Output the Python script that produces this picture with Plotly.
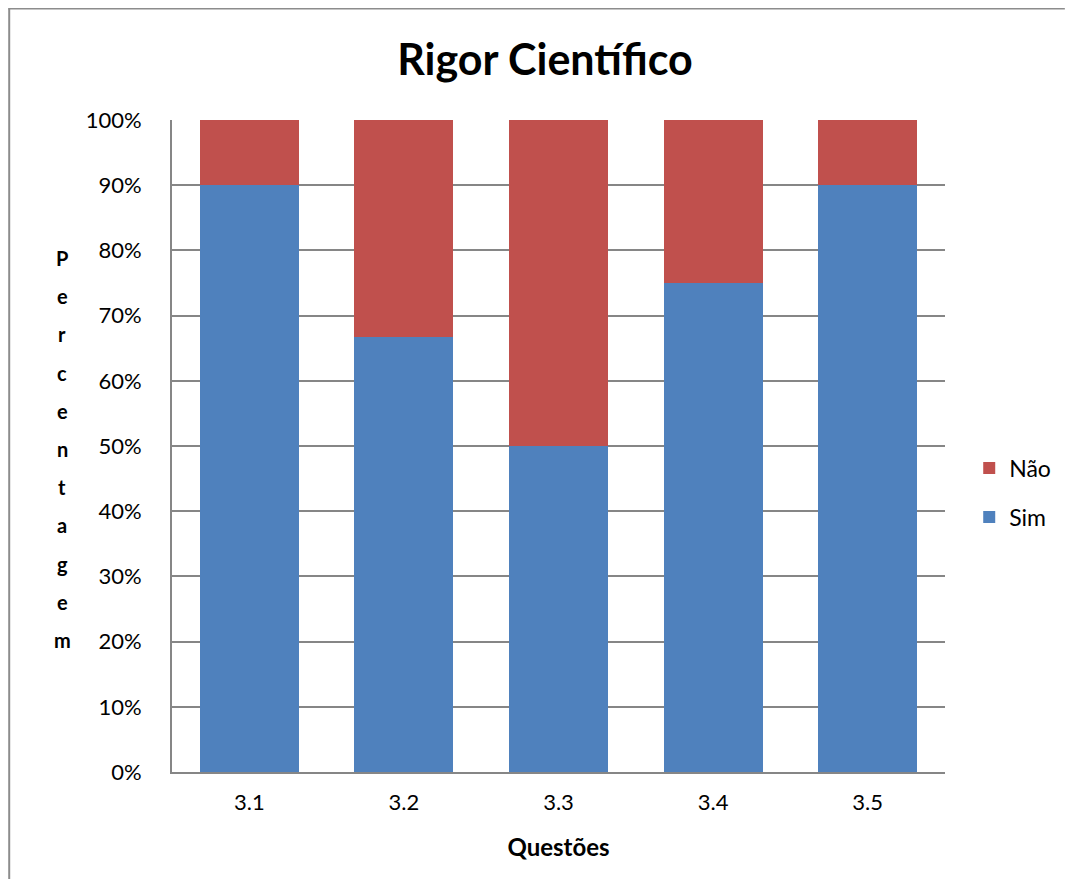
import plotly.graph_objects as go

categories = ["3.1", "3.2", "3.3", "3.4", "3.5"]
sim = [0.90, 0.667, 0.50, 0.75, 0.90]
nao = [0.10, 0.333, 0.50, 0.25, 0.10]
y_ticks = [i / 10 for i in range(11)]
y_ticktext = [f"{i*10}%" for i in range(11)]
ylabel = "Percentagem"

FONT = "Lato, Open Sans, sans-serif"

# page body has an 8px margin, so the figure is laid out smaller and shifted by 8px
W, H = 1059, 872
L, T = 164, 112
PW, PH = 774, 652
R = W - L - PW
B = H - T - PH

fig = go.Figure()
fig.add_trace(go.Bar(name="Sim", x=categories, y=sim, legend="legend2", showlegend=True,
                     marker=dict(color="#4F81BD", line=dict(width=0))))
fig.add_trace(go.Bar(name="Não", x=categories, y=nao, legend="legend", showlegend=True,
                     marker=dict(color="#C0504D", line=dict(width=0))))

leg_common = dict(x=1.03, xanchor="left", yanchor="middle", font=dict(size=23), itemwidth=30,
                  bgcolor="rgba(0,0,0,0)")

fig.update_layout(
    width=W, height=H, showlegend=True,
    barmode="stack", bargap=0.36,
    paper_bgcolor="white", plot_bgcolor="white",
    margin=dict(l=L, r=R, t=T, b=B),
    font=dict(family=FONT, size=22, color="black"),
    title=dict(text="<b>Rigor Científico</b>", x=(545 - 8) / W, xanchor="center",
               y=1 - 52 / H, yanchor="middle", font=dict(size=43, family=FONT)),
    legend=dict(y=(772 - 468) / PH, **leg_common),
    legend2=dict(y=(772 - 517) / PH, **leg_common),
    xaxis=dict(showline=True, linecolor="#868686", linewidth=2, ticks="", tickfont=dict(size=22),
               ticklabelstandoff=10,
               title=dict(text="<b>Questões</b>", font=dict(size=24), standoff=25)),
    yaxis=dict(range=[0, 1], tickvals=y_ticks, ticktext=y_ticktext, showgrid=True, gridcolor="#868686",
               gridwidth=1.5, showline=True, linecolor="#868686", linewidth=2, ticks="",
               tickfont=dict(size=22), ticklabelstandoff=24, zeroline=False),
    shapes=[
        dict(type="line", xref="paper", yref="paper",
             x0=(1 - L) / PW, x1=(1 - L) / PW, y0=-(B - 1) / PH, y1=(PH + T - 0.5) / PH,
             line=dict(color="#8C8C8C", width=2), layer="below"),
        dict(type="line", xref="paper", yref="paper",
             x0=(0 - L) / PW, x1=(W - 1 - L) / PW, y0=(PH + T - 0.5) / PH, y1=(PH + T - 0.5) / PH,
             line=dict(color="#8C8C8C", width=2), layer="below"),
    ],
)

top_px, step = 258, 38.2
for i, ch in enumerate(ylabel):
    ypx = top_px + i * step
    fig.add_annotation(text=f"<b>{ch}</b>", xref="paper", yref="paper",
                       x=(62 - 172) / PW, y=(772 - ypx) / PH, showarrow=False,
                       xanchor="center", yanchor="middle", font=dict(size=20, family=FONT))

fig.write_html("out.html")
